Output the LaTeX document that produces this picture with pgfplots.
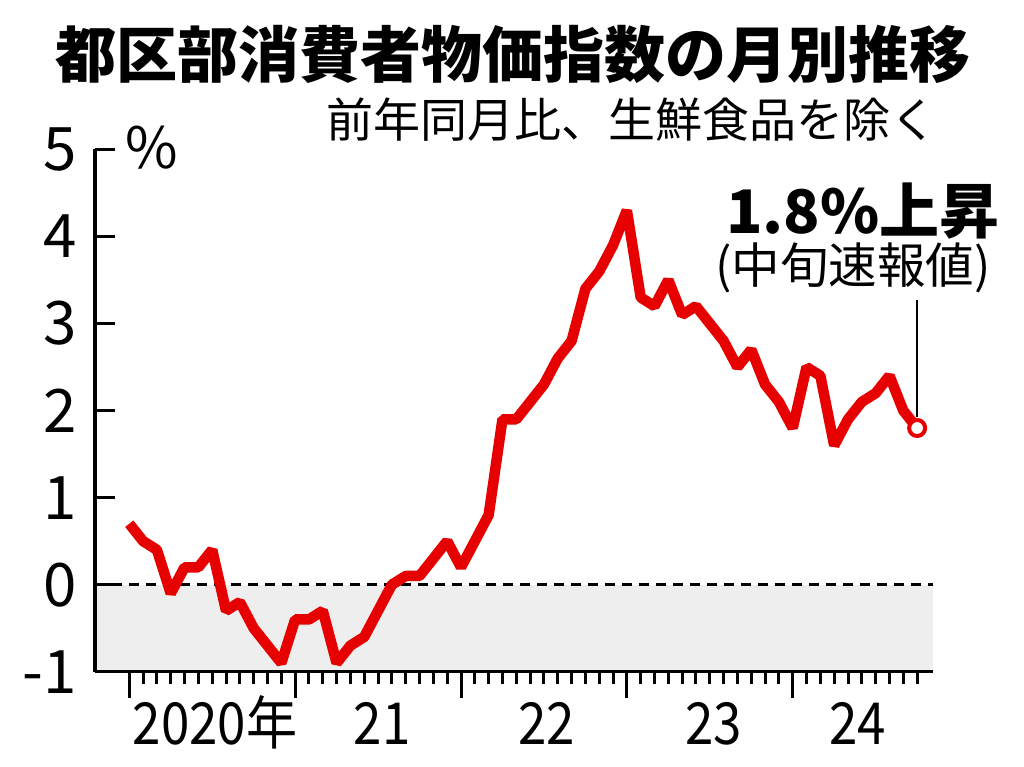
\documentclass[border=0pt]{standalone}
\usepackage{fontspec}
\setmainfont{Noto Sans CJK JP}
\newfontfamily\cond[FakeStretch=0.88]{Noto Sans CJK JP}
\usepackage{pgfplots}
\pgfplotsset{compat=1.18}
\definecolor{cpired}{HTML}{E60000}
\definecolor{band}{HTML}{EEEEEE}

\pgfplotstableread{
m v
0 0.7
1 0.5
2 0.4
3 -0.1
4 0.2
5 0.2
6 0.4
7 -0.3
8 -0.2
9 -0.5
10 -0.7
11 -0.9
12 -0.4
13 -0.4
14 -0.3
15 -0.9
16 -0.7
17 -0.6
18 -0.3
19 0.0
20 0.1
21 0.1
22 0.3
23 0.5
24 0.2
25 0.5
26 0.8
27 1.9
28 1.9
29 2.1
30 2.3
31 2.6
32 2.8
33 3.4
34 3.6
35 3.9
36 4.3
37 3.3
38 3.2
39 3.5
40 3.1
41 3.2
42 3.0
43 2.8
44 2.5
45 2.7
46 2.3
47 2.1
48 1.8
49 2.5
50 2.4
51 1.6
52 1.9
53 2.1
54 2.2
55 2.4
56 2.0
57 1.8
}\cpidata

\begin{document}
\begin{tikzpicture}[x=1pt,y=1pt]
\useasboundingbox (0,0) rectangle (1024,767);
\begin{axis}[
  at={(95pt,95.3pt)}, anchor=south west,
  scale only axis, width=838pt, height=522.2pt,
  xmin=-2.48, xmax=58.15, ymin=-1, ymax=5,
  axis lines*=left,
  axis line style={line width=3.5pt, black},
  axis on top,
  clip=false,
  tick style={line width=3pt, black},
  tick align=outside,
  xtick={0,12,24,36,48}, xticklabels={},
  minor xtick={1,...,57},
  major tick length=26pt, minor tick length=12pt,
  ytick=\empty,
  extra y ticks={-1,0,1,2,3,4,5},
  extra y tick labels={-1,0,1,2,3,4,5},
  extra y tick style={major tick length=20pt, tick align=inside,
    yticklabel style={font=\fontsize{60}{60}\selectfont, anchor=east, inner sep=0pt, xshift=-18pt}},
  extra x ticks={6.2,18.3,30.2,42.3,52.7},
  extra x tick labels={2020年,21,22,23,24},
  extra x tick style={major tick length=0pt,
    xticklabel style={font=\cond\fontsize{58}{58}\selectfont, anchor=base, inner sep=0pt, yshift=-73pt}},
]
\addplot[fill=band, draw=none] coordinates {(-2.48,-1) (58.15,-1) (58.15,0) (-2.48,0)} -- cycle;
\addplot[black, line width=3pt, dash pattern=on 10pt off 7pt] coordinates {(-2.48,0) (58.15,0)};
\addplot[cpired, line width=10.5pt, line join=bevel, line cap=butt] table[x=m, y=v] {\cpidata};
\addplot[black, line width=2pt] coordinates {(57,1.93) (57,3.27)};
\addplot[cpired, line width=4pt, only marks, mark=*, mark size=8pt, mark options={fill=white}] coordinates {(57,1.8)};
\end{axis}
\node[font=\bfseries\fontsize{61}{61}\selectfont, inner sep=0pt] at (513,713) {都区部消費者物価指数の月別推移};
\node[anchor=east, font=\fontsize{47}{47}\selectfont, inner sep=0pt] at (938,647) {前年同月比、生鮮食品を除く};
\node[anchor=west, inner sep=0pt, font=\fontsize{57}{57}\selectfont] at (125,619) {\%};
\node[font=\bfseries\fontsize{60}{60}\selectfont, inner sep=0pt] at (863,556) {1.8\%上昇};
\node[font=\fontsize{48.5}{48.5}\selectfont, inner sep=0pt] at (853,499) {(中旬速報値)};
\end{tikzpicture}
\end{document}
